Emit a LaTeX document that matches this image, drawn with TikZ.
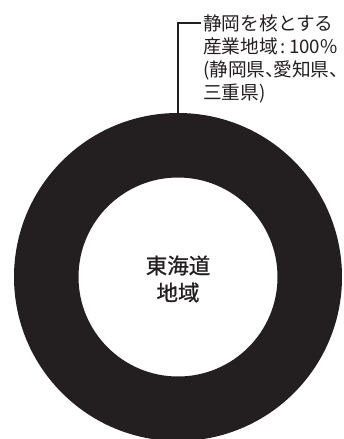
\documentclass[tikz,border=0pt]{standalone}
\usepackage{fontspec}
\newfontfamily\jp{Noto Sans CJK JP}
\newfontfamily\jpm[FakeBold=1]{Noto Sans CJK JP}
\definecolor{ink}{HTML}{231F20}
\newcommand{\jcomma}{\makebox[0.42em][l]{、}}
\newcommand{\jcommaend}{\makebox[0.3em][l]{、}}
\newcommand{\jcolon}{\hspace{3pt}:\hspace{3pt}}
\begin{document}
\begin{tikzpicture}[x=1pt,y=-1pt,
  ringstyle/.style={fill=ink,even odd rule},
  leader/.style={draw=ink,line width=1.2pt},
  calltext/.style={inner sep=0pt,anchor=base west,align=left,text=ink,
    font=\jp\fontsize{18.7}{23}\selectfont},
  centertext/.style={inner sep=0pt,align=center,text=ink,
    font=\jpm\fontsize{21.5}{27}\selectfont}]
\useasboundingbox (0,0) rectangle (344,439);
\fill[ringstyle] (178,277) circle[radius=164pt] (178,277) circle[radius=99.5pt];
\node[centertext] (center) at (178,279) {東海道\\地域};
\node[calltext] (label) at (203,99) {静岡を核とする\\産業地域\jcolon 100\%\\(静岡県\jcomma 愛知県\jcommaend\\三重県)};
\coordinate (top) at (178,113);
\coordinate (knee) at (178,23);
\coordinate (lend) at (201,23);
\draw[leader] (top) -- (knee) -- (lend);
\end{tikzpicture}
\end{document}
